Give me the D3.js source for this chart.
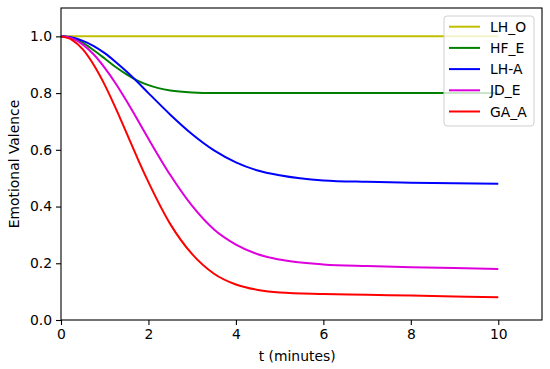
<!DOCTYPE html>
<html>
<head>
<meta charset="utf-8">
<script src="https://cdn.jsdelivr.net/npm/d3@7"></script>
<style>
  body { margin: 0; background: #fff; }
  text { font-family: "DejaVu Sans", sans-serif; }
</style>
</head>
<body>
<div id="chart"></div>
<script>
const tValues = [0, 0.25, 0.5, 0.75, 1, 1.25, 1.5, 1.75, 2, 2.5, 3, 3.5, 4, 4.5, 5, 6, 7, 8, 9, 10]
const LH_O = [1, 1, 1, 1, 1, 1, 1, 1, 1, 1, 1, 1, 1, 1, 1, 1, 1, 1, 1, 1]
const HF_E = [1, 0.994, 0.977, 0.951, 0.922, 0.892, 0.866, 0.844, 0.828, 0.809, 0.802, 0.8, 0.8, 0.8, 0.8, 0.8, 0.8, 0.8, 0.8, 0.8]
const LH_A = [1, 0.996, 0.984, 0.966, 0.941, 0.91, 0.876, 0.839, 0.8, 0.724, 0.655, 0.598, 0.556, 0.527, 0.51, 0.492, 0.487, 0.484, 0.482, 0.48]
const JD_E = [1, 0.993, 0.971, 0.936, 0.889, 0.834, 0.772, 0.706, 0.639, 0.511, 0.402, 0.319, 0.266, 0.232, 0.213, 0.196, 0.19, 0.186, 0.183, 0.18]
const GA_A = [1, 0.988, 0.954, 0.899, 0.829, 0.747, 0.659, 0.57, 0.486, 0.338, 0.232, 0.163, 0.125, 0.106, 0.097, 0.092, 0.089, 0.086, 0.083, 0.08]
const seriesNames = ["LH_O", "HF_E", "LH-A", "JD_E", "GA_A"]
const seriesColors = ["#bfbf00", "#008000", "#0000ff", "#dd00dd", "#ff0000"]
const xTicks = [0, 2, 4, 6, 8, 10]
const yTicks = [0, 0.2, 0.4, 0.6, 0.8, 1.0]

const series = [LH_O, HF_E, LH_A, JD_E, GA_A]

const MARGIN = { TOP: 8, BOTTOM: 49, LEFT: 61, RIGHT: 8 }
const W = 550, H = 369
const WIDTH = W - MARGIN.LEFT - MARGIN.RIGHT
const HEIGHT = H - MARGIN.TOP - MARGIN.BOTTOM

const svg = d3.select("#chart").append("svg")
    .attr("width", W)
    .attr("height", H)
const g = svg.append("g")
    .attr("transform", `translate(${MARGIN.LEFT},${MARGIN.TOP})`)

const x = d3.scaleLinear().domain([0, 11]).range([0, WIDTH])
const y = d3.scaleLinear().domain([0, 1.1]).range([HEIGHT, 0])

const line = d3.line()
    .x((d, i) => x(tValues[i]))
    .y(d => y(d))
    .curve(d3.curveMonotoneX)

series.forEach((s, k) => {
    g.append("path")
        .datum(s)
        .attr("fill", "none")
        .attr("stroke", seriesColors[k])
        .attr("stroke-width", 2)
        .attr("d", line)
})

// axes
const xAxis = g.append("g")
    .attr("transform", `translate(0,${HEIGHT})`)
    .call(d3.axisBottom(x).tickValues(xTicks).tickFormat(d3.format("d")).tickSize(5).tickPadding(4))
const yAxis = g.append("g")
    .call(d3.axisLeft(y).tickValues(yTicks).tickFormat(d3.format(".1f")).tickSize(5).tickPadding(4))

;[xAxis, yAxis].forEach(a => {
    a.select(".domain").remove()
    a.selectAll(".tick line").attr("stroke", "#000").attr("stroke-width", 1.1)
    a.selectAll(".tick text")
        .attr("fill", "#000")
        .style("font-size", "13.9px")
        .style("font-family", "DejaVu Sans")
})

// frame
g.append("rect")
    .attr("x", 0).attr("y", 0)
    .attr("width", WIDTH).attr("height", HEIGHT)
    .attr("fill", "none")
    .attr("stroke", "#000")
    .attr("stroke-width", 1.1)

// labels
svg.append("text")
    .attr("x", MARGIN.LEFT + x(5.4))
    .attr("y", 361)
    .attr("text-anchor", "middle")
    .style("font-size", "13.9px")
    .text("t (minutes)")

svg.append("text")
    .attr("transform", `translate(19,${MARGIN.TOP + HEIGHT / 2}) rotate(-90)`)
    .attr("text-anchor", "middle")
    .style("font-size", "13.9px")
    .text("Emotional Valence")

// legend
const legend = svg.append("g").attr("transform", "translate(444,16)")
legend.append("rect")
    .attr("width", 90).attr("height", 110)
    .attr("rx", 3)
    .attr("fill", "#fff").attr("fill-opacity", 0.8)
    .attr("stroke", "#d0d0d0")
const rows = legend.selectAll("g.row")
    .data(seriesNames)
    .enter().append("g")
    .attr("transform", (d, i) => `translate(0,${10.7 + i * 21.2})`)
rows.append("line")
    .attr("x1", 5).attr("x2", 36)
    .attr("stroke", (d, i) => seriesColors[i])
    .attr("stroke-width", 2)
rows.append("text")
    .attr("x", 46)
    .attr("y", 5)
    .style("font-size", "13.9px")
    .text(d => d)
</script>
</body>
</html>
